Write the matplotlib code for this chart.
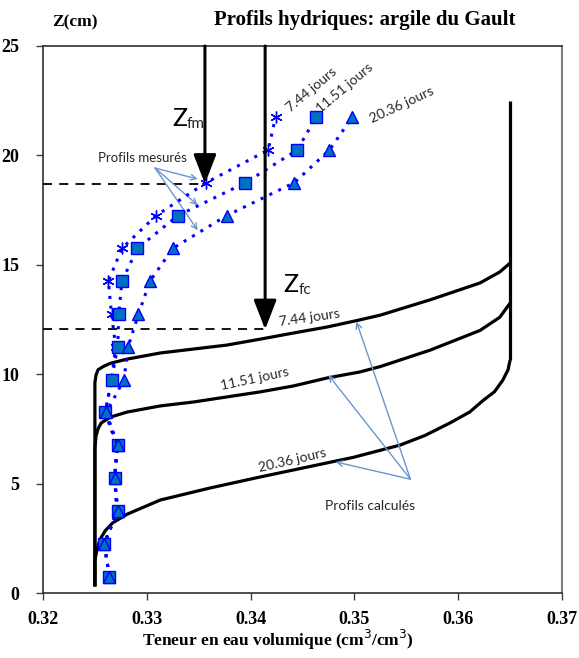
import matplotlib
matplotlib.use("Agg")
import matplotlib.pyplot as plt

# measured profiles (depth z in cm, water content)
z_mes = [0.75, 2.25, 3.75, 5.25, 6.75, 8.25, 9.75, 11.25, 12.75, 14.25, 15.75, 17.25, 18.75, 20.25, 21.75]
mes_744 = [0.3264, 0.3259, 0.3271, 0.3269, 0.3271, 0.3260, 0.3266, 0.3270, 0.3266, 0.3263, 0.3276, 0.3309, 0.3357, 0.3417, 0.3424]
mes_1151 = [0.3264, 0.3259, 0.3272, 0.3269, 0.3272, 0.3260, 0.3266, 0.3272, 0.3273, 0.3276, 0.3291, 0.3330, 0.3395, 0.3445, 0.3463]
mes_2036 = [0.3264, 0.3259, 0.3272, 0.3269, 0.3272, 0.3261, 0.3278, 0.3282, 0.3292, 0.3303, 0.3325, 0.3377, 0.3442, 0.3476, 0.3498]

# calculated profiles
calc_744_x = [0.3250, 0.3250, 0.3251, 0.3253, 0.3258, 0.3265, 0.3281, 0.3313, 0.3345, 0.3377, 0.3409,
              0.3441, 0.3474, 0.3505, 0.3525, 0.3573, 0.3621, 0.3640, 0.3650]
calc_744_z = [0.3, 9.6, 9.95, 10.2, 10.35, 10.5, 10.69, 10.97, 11.15, 11.33, 11.6,
              11.88, 12.16, 12.48, 12.7, 13.4, 14.17, 14.67, 15.08]
calc_1151_x = [0.3250, 0.3250, 0.3251, 0.3253, 0.3256, 0.3265, 0.3281, 0.3313, 0.3345, 0.3377, 0.3409,
               0.3441, 0.3474, 0.3505, 0.3525, 0.3573, 0.3621, 0.3640, 0.3650]
calc_1151_z = [0.3, 6.6, 7.15, 7.5, 7.77, 8.04, 8.27, 8.55, 8.73, 8.96, 9.19,
               9.46, 9.83, 10.1, 10.35, 11.1, 12.0, 12.6, 13.25]
calc_2036_x = [0.3250, 0.3250, 0.3252, 0.3255, 0.3260, 0.3267, 0.3281, 0.3313, 0.3361, 0.3409, 0.3454,
               0.3499, 0.3544, 0.3568, 0.3592, 0.3611, 0.3624, 0.3635, 0.3643, 0.3648, 0.3650]
calc_2036_z = [0.3, 1.5, 2.0, 2.45, 2.85, 3.2, 3.6, 4.25, 4.8, 5.3, 5.75,
               6.2, 6.76, 7.2, 7.77, 8.27, 8.8, 9.2, 9.73, 10.2, 10.65]
init_x = [0.3650, 0.3650]
init_z = [10.65, 22.5]

# front depths
zfm_x, zfm_z = 0.3356, 18.7
zfc_x, zfc_z = 0.3414, 12.05

x_ticks = [0.32, 0.33, 0.34, 0.35, 0.36, 0.37]
y_ticks = [0, 5, 10, 15, 20, 25]

serif = "Liberation Serif"
sans = "Lato"
txt_col = "#262626"
note_col = "#6a96cc"

fig = plt.figure(figsize=(5.79, 6.58), dpi=100)
ax = fig.add_axes([43 / 579, 65 / 658, 519 / 579, 547 / 658])

# calculated curves
for cx, cz in [(calc_744_x, calc_744_z), (calc_1151_x, calc_1151_z), (calc_2036_x, calc_2036_z), (init_x, init_z)]:
    ax.plot(cx, cz, color="black", lw=2.3, solid_capstyle="butt", solid_joinstyle="round", zorder=2)

# measured curves
mk = dict(color="#0000ff", lw=2.2, ls=(0, (1, 2.2)), markersize=8.5, zorder=4,
          markeredgecolor="#0000ff", markeredgewidth=1.0)
ax.plot(mes_744, z_mes, marker=(6, 2, 0), markerfacecolor="#0000ff", **mk)
ax.plot(mes_1151, z_mes, marker="s", markerfacecolor="#0070c0", **mk)
ax.plot(mes_2036, z_mes, marker="^", markerfacecolor="#0070c0", **mk)

# front arrows and dashed depth lines
ax.plot([0.32, zfm_x], [zfm_z, zfm_z], color="black", lw=1.3, ls=(0, (5, 4)), zorder=3)
ax.plot([0.32, zfc_x], [zfc_z, zfc_z], color="black", lw=1.3, ls=(0, (5, 4)), zorder=3)
for fx, fz in [(zfm_x, zfm_z), (zfc_x, zfc_z)]:
    ax.annotate("", xy=(fx, fz), xytext=(fx, 25),
                arrowprops=dict(arrowstyle="-|>,head_length=0.9,head_width=0.35", lw=2.2,
                                color="black", shrinkA=0, shrinkB=0, mutation_scale=20),
                zorder=5, annotation_clip=False)

ax.text(0.3325, 21.7, "Z", fontsize=18, family=sans, color="black", ha="left", va="center")
ax.text(0.3338, 21.45, "fm", fontsize=11, family=sans, color=txt_col, ha="left", va="center")
ax.text(0.3432, 14.1, "Z", fontsize=18, family=sans, color="black", ha="left", va="center")
ax.text(0.34465, 13.85, "fc", fontsize=11, family=sans, color=txt_col, ha="left", va="center")

# curve labels
lab = dict(fontsize=10, family=sans, color=txt_col, ha="center", va="center")
ax.text(0.3459, 23.0, "7.44 jours", rotation=40, **lab)
ax.text(0.3491, 23.1, "11.51 jours", rotation=40, **lab)
ax.text(0.3546, 22.3, "20.36 jours", rotation=25, **lab)
ax.text(0.3457, 12.6, "7.44 jours", rotation=8, **lab)
ax.text(0.3404, 9.8, "11.51 jours", rotation=12, **lab)
ax.text(0.3440, 6.05, "20.36 jours", rotation=13, **lab)

# annotation arrows
ax.text(0.3296, 19.9, "Profils mesurés", fontsize=9.5, family=sans, color=txt_col, ha="center", va="center")
for ex, ez in [(0.3349, 18.92), (0.3349, 17.73), (0.3349, 16.58)]:
    ax.annotate("", xy=(ex, ez), xytext=(0.3308, 19.42),
                arrowprops=dict(arrowstyle="->", lw=1.0, color=note_col, shrinkA=0, shrinkB=0))
ax.text(0.3515, 3.97, "Profils calculés", fontsize=10, family=sans, color=txt_col, ha="center", va="center")
for ex, ez in [(0.3502, 12.4), (0.3475, 9.96), (0.3482, 5.99)]:
    ax.annotate("", xy=(ex, ez), xytext=(0.3554, 5.2),
                arrowprops=dict(arrowstyle="->", lw=1.0, color=note_col, shrinkA=0, shrinkB=0))

ax.set_xlim(0.32, 0.37)
ax.set_ylim(0, 25)
ax.set_xticks(x_ticks)
ax.set_xticklabels([f"{v:.2f}" for v in x_ticks])
ax.set_yticks(y_ticks)
ax.tick_params(direction="out", length=5, width=1, colors="#404040", labelcolor="black", pad=8)
for lbl in ax.get_xticklabels() + ax.get_yticklabels():
    lbl.set_fontfamily(serif)
    lbl.set_fontweight("bold")
    lbl.set_fontsize(13)
ax.tick_params(axis="y", pad=12)

for side in ["left", "bottom", "top"]:
    ax.spines[side].set_color("#303030")
    ax.spines[side].set_linewidth(1.2)
ax.spines["right"].set_color("#808080")
ax.spines["right"].set_linewidth(1.5)

fig.text(365 / 579, 1 - 20 / 658, "Profils hydriques: argile du Gault", fontsize=15,
         family=serif, fontweight="bold", ha="center", va="center")
fig.text(75 / 579, 1 - 22 / 658, "Z(cm)", fontsize=12.5, family=serif, fontweight="bold",
         ha="center", va="center")
fig.text(278 / 579, 1 - 640 / 658, "Teneur en eau volumique (cm$^3$/cm$^3$)", fontsize=12.5,
         family=serif, fontweight="bold", ha="center", va="center")

fig.savefig("out.png", dpi=100)
